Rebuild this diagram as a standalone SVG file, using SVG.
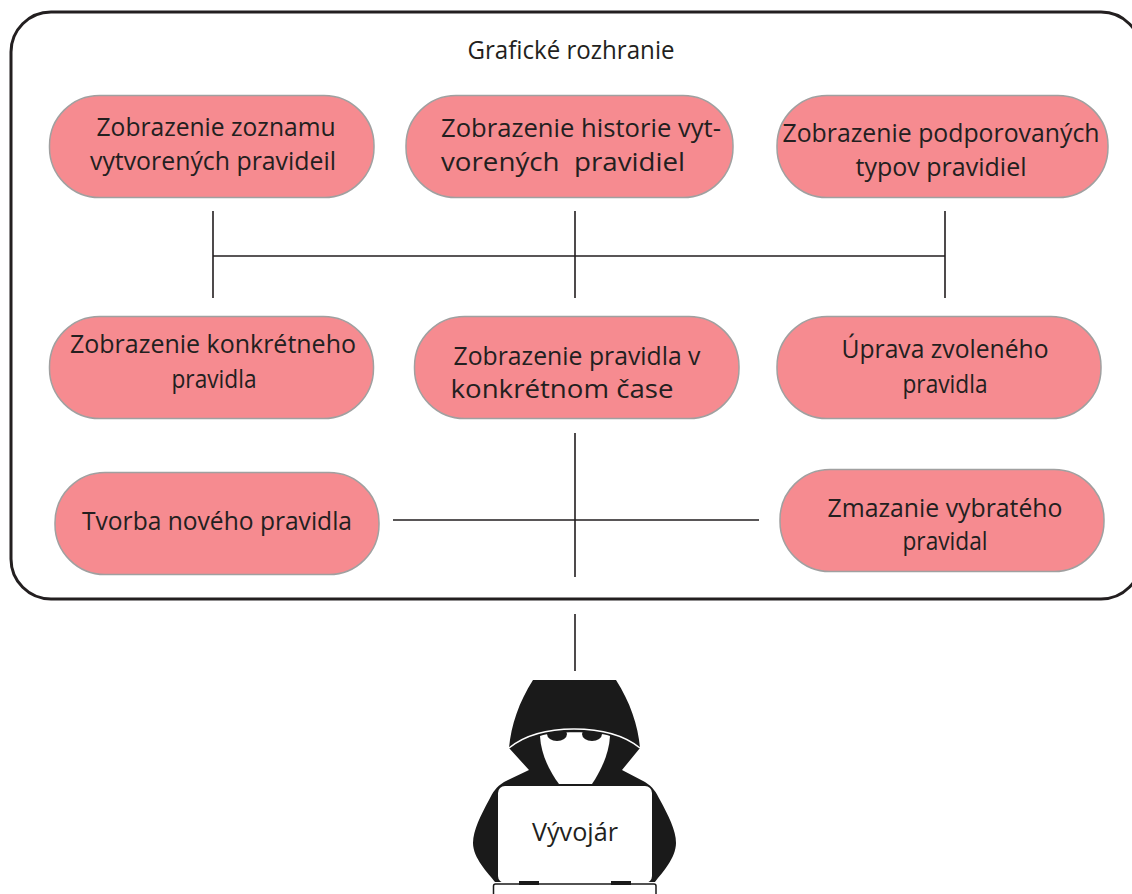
<svg xmlns="http://www.w3.org/2000/svg" width="1132" height="894" viewBox="0 0 1132 894">
<style>
text{font-family:"Open Sans","Noto Sans","Liberation Sans",sans-serif;font-size:25px;fill:#231f20;text-anchor:middle}
.n{fill:#f68b90;stroke:#a0a0a0;stroke-width:1.5}
.c{stroke:#231f20;stroke-width:1.6;fill:none}
.k{fill:#1a1a1a}
</style>
<rect width="1132" height="894" fill="#fff"/>
<rect id="frame" x="11" y="12" width="1130" height="587" rx="40" fill="#fff" stroke="#231f20" stroke-width="3"/>
<text id="title" x="571" y="59" textLength="207" lengthAdjust="spacingAndGlyphs">Grafické rozhranie</text>
<g id="connectors" class="c">
<path d="M213 211V298M575 211V298M945 211V298M213 256H945"/>
<path d="M575 433V577M393 520H759M575 614V671"/>
</g>
<g id="node1"><rect class="n" x="49.500" y="95.500" width="324.500" height="102" rx="50"/><text x="216" y="136" textLength="239" lengthAdjust="spacingAndGlyphs">Zobrazenie zoznamu</text><text x="213" y="170" textLength="246" lengthAdjust="spacingAndGlyphs">vytvorených pravideil</text></g>
<g id="node2"><rect class="n" x="406" y="95.500" width="327" height="102" rx="50"/><text x="581" y="137" textLength="280" lengthAdjust="spacingAndGlyphs">Zobrazenie historie vyt-</text><text x="563" y="171" textLength="244" lengthAdjust="spacingAndGlyphs" xml:space="preserve">vorených  pravidiel</text></g>
<g id="node3"><rect class="n" x="777" y="95.500" width="331" height="102" rx="50"/><text x="941" y="142" textLength="317" lengthAdjust="spacingAndGlyphs">Zobrazenie podporovaných</text><text x="941" y="176" textLength="171" lengthAdjust="spacingAndGlyphs">typov pravidiel</text></g>
<g id="node4"><rect class="n" x="49.500" y="316.500" width="324" height="102" rx="50"/><text x="213" y="353" textLength="286" lengthAdjust="spacingAndGlyphs">Zobrazenie konkrétneho</text><text x="214" y="388" textLength="85" lengthAdjust="spacingAndGlyphs">pravidla</text></g>
<g id="node5"><rect class="n" x="414.500" y="316.500" width="324.500" height="102" rx="50"/><text x="577" y="365" textLength="247" lengthAdjust="spacingAndGlyphs">Zobrazenie pravidla v</text><text x="562" y="398" textLength="223" lengthAdjust="spacingAndGlyphs">konkrétnom čase</text></g>
<g id="node6"><rect class="n" x="777" y="316.500" width="324" height="102" rx="50"/><text x="945" y="358" textLength="207" lengthAdjust="spacingAndGlyphs">Úprava zvoleného</text><text x="945" y="393" textLength="85" lengthAdjust="spacingAndGlyphs">pravidla</text></g>
<g id="node7"><rect class="n" x="55" y="472.500" width="324" height="102" rx="50"/><text x="217" y="530" textLength="270" lengthAdjust="spacingAndGlyphs">Tvorba nového pravidla</text></g>
<g id="node8"><rect class="n" x="780" y="469.500" width="324" height="102" rx="50"/><text x="945" y="517" textLength="235" lengthAdjust="spacingAndGlyphs">Zmazanie vybratého</text><text x="945" y="550" textLength="85" lengthAdjust="spacingAndGlyphs">pravidal</text></g>
<g id="developer">
<path class="k" d="M533 680H616C630 702 638 725 640 748L622 770L645 782C653 787 656 792 660 800C668 815 676 830 676 843C676 858 662 873 655 882H495C488 873 473 858 473 843C473 830 481 815 489 800C493 792 496 787 504 782L529 770L509 748C511 725 519 702 533 680Z"/>
<path d="M540 736C555 731 595 731 610 736C609 755 600 772 592 784H559C550 772 541 755 540 736Z" fill="#fff"/>
<ellipse class="k" cx="557" cy="734" rx="10" ry="7"/><ellipse class="k" cx="592" cy="734" rx="10" ry="7"/>
<path d="M509 748C525 735 548 729 574 729C600 729 624 735 640 748" fill="none" stroke="#fff" stroke-width="1.500"/>
<rect x="498" y="786" width="154" height="97" rx="7" fill="#fff"/>
<rect x="493.500" y="884" width="162.500" height="20" rx="2" fill="#fff" stroke="#1a1a1a" stroke-width="1.500"/>
<rect class="k" x="519" y="881" width="20" height="4"/><rect class="k" x="611" y="881" width="20" height="4"/>
<text x="575" y="841" textLength="86" lengthAdjust="spacingAndGlyphs">Vývojár</text>
</g>
</svg>
